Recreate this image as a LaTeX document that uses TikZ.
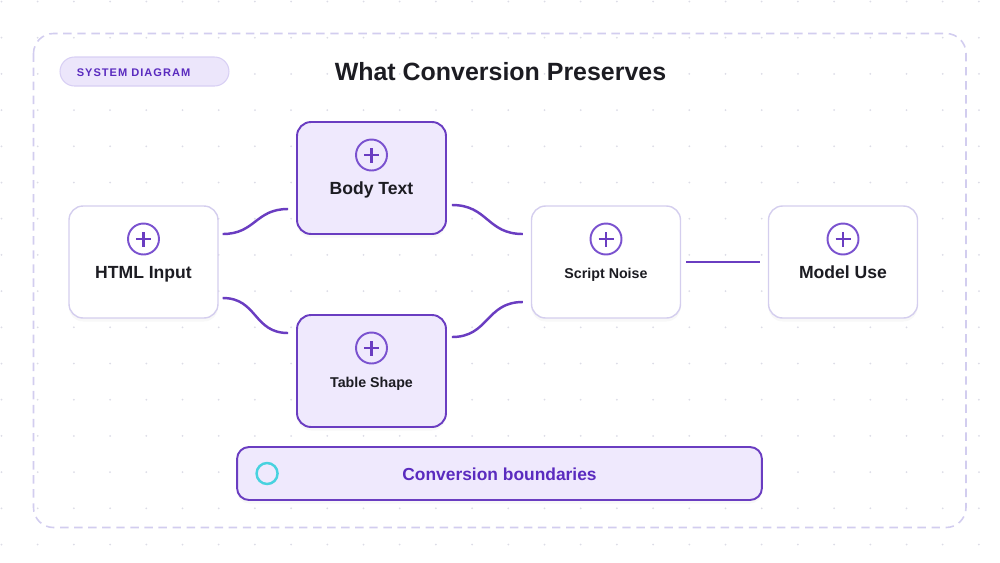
\documentclass[tikz,border=0pt]{standalone}
\usepackage{fontspec}
\setmainfont{Liberation Sans}
\newfontfamily\capsfont[LetterSpace=9]{Liberation Sans}
\usetikzlibrary{shadows}
\definecolor{gridc}{HTML}{DCDCE6}
\definecolor{framec}{HTML}{D2CDEF}
\definecolor{softc}{HTML}{D4CEEE}
\definecolor{deepc}{HTML}{6A3DC1}
\definecolor{lilac}{HTML}{EFE9FD}
\definecolor{pillc}{HTML}{ECE6FB}
\definecolor{pilledge}{HTML}{D8CFF4}
\definecolor{inkc}{HTML}{5A2BBF}
\definecolor{iconc}{HTML}{7A52CF}
\definecolor{cyanc}{HTML}{48D2DF}
\definecolor{textc}{HTML}{1C1C22}
\begin{document}
\begin{tikzpicture}[x=0.02cm,y=-0.02cm,
 plainbox/.style={draw=softc,line width=0.8pt,fill=white,rounded corners=0.28cm,minimum width=2.98cm,minimum height=2.24cm,
  drop shadow={opacity=0.06,shadow xshift=0pt,shadow yshift=-2pt}},
 markbox/.style={plainbox,draw=deepc,line width=1.1pt,fill=lilac},
 biglabel/.style={anchor=base,text=textc,font=\fontsize{10}{12}\selectfont\bfseries},
 smalllabel/.style={anchor=base,text=textc,font=\fontsize{8.1}{10}\selectfont\bfseries},
 wire/.style={draw=deepc,line width=1.4pt},
 plusicon/.pic={\draw[iconc,line width=1.1pt] (0,0) circle (0.31cm);
  \draw[deepc,line width=1.2pt] (-0.15cm,0)--(0.15cm,0) (0,-0.15cm)--(0,0.15cm);}]
 \useasboundingbox (0,0) rectangle (1000,562);
 \foreach \i in {0,...,27} \foreach \j in {0,...,15} \fill[gridc] (1.5+36.2*\i,1.5+36.2*\j) circle (0.02cm);
 \draw[framec,line width=0.9pt,dash pattern=on 4.8pt off 3.2pt,rounded corners=0.4cm] (33.5,33.5) rectangle (966,527.5);

 \node[draw=pilledge,fill=pillc,line width=0.6pt,rounded corners=0.29cm,minimum width=3.38cm,minimum height=0.58cm] (tag) at (144.5,71.5) {};
 \node[anchor=base west,inner sep=0pt,text=inkc,font=\capsfont\fontsize{6.3}{8}\selectfont\bfseries] (tagtxt) at ([xshift=0.34cm,yshift=-0.104cm]tag.west) {SYSTEM DIAGRAM};
 \node[anchor=base,text=textc,font=\fontsize{14.2}{17}\selectfont\bfseries] (title) at (500.5,80) {What Conversion Preserves};

 \node[plainbox] (html) at (143.5,262) {};
 \node[markbox] (body) at (371.5,178) {};
 \node[markbox] (table) at (371.5,371) {};
 \node[plainbox] (script) at (606,262) {};
 \node[plainbox] (model) at (843,262) {};

 \pic at ([yshift=0.46cm]html.center) {plusicon};
 \pic at ([yshift=0.46cm]body.center) {plusicon};
 \pic at ([yshift=0.46cm]table.center) {plusicon};
 \pic at ([yshift=0.46cm]script.center) {plusicon};
 \pic at ([yshift=0.46cm]model.center) {plusicon};

 \node[biglabel] (htmltxt) at ([yshift=-0.32cm]html.center) {HTML Input};
 \node[biglabel] (bodytxt) at ([yshift=-0.32cm]body.center) {Body Text};
 \node[smalllabel] (tabletxt) at ([yshift=-0.32cm]table.center) {Table Shape};
 \node[smalllabel] (scripttxt) at ([yshift=-0.32cm]script.center) {Script Noise};
 \node[biglabel] (modeltxt) at ([yshift=-0.32cm]model.center) {Model Use};

 \draw[wire] ([xshift=0.08cm,yshift=0.56cm]html.east) to[out=0,in=180,looseness=1.2] ([xshift=-0.16cm,yshift=-0.62cm]body.west);
 \draw[wire] ([xshift=0.08cm,yshift=-0.72cm]html.east) to[out=0,in=180,looseness=1.2] ([xshift=-0.16cm,yshift=0.76cm]table.west);
 \draw[wire] ([xshift=0.1cm,yshift=-0.54cm]body.east) to[out=0,in=180,looseness=1.2] ([xshift=-0.16cm,yshift=0.56cm]script.west);
 \draw[wire] ([xshift=0.1cm,yshift=0.68cm]table.east) to[out=0,in=180,looseness=1.2] ([xshift=-0.16cm,yshift=-0.8cm]script.west);
 \draw[wire] ([xshift=0.1cm]script.east) -- ([xshift=-0.16cm]model.west);

 \node[markbox,minimum width=10.5cm,minimum height=1.06cm,rounded corners=0.24cm] (limits) at (499.5,473.5) {};
 \draw[cyanc,line width=1.4pt] ([xshift=0.62cm]limits.west) circle (0.21cm);
 \node[anchor=base,text=inkc,font=\fontsize{9.9}{12}\selectfont\bfseries] (limitstxt) at ([yshift=-0.13cm]limits.center) {Conversion boundaries};
\end{tikzpicture}
\end{document}
